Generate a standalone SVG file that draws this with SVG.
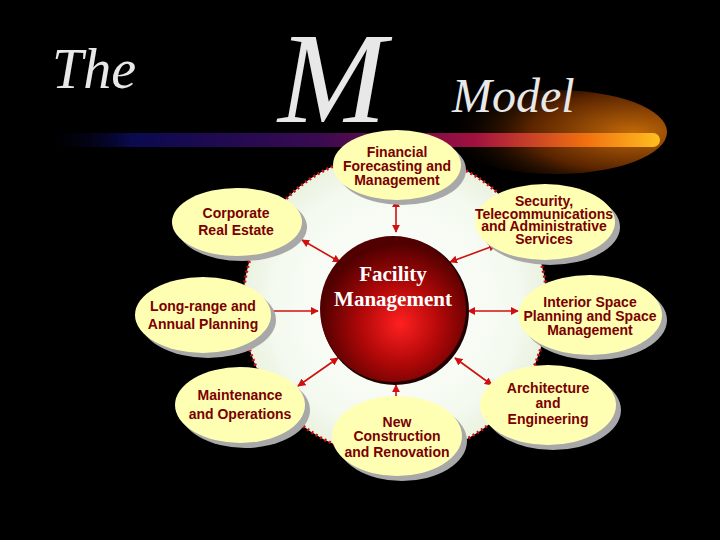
<svg xmlns="http://www.w3.org/2000/svg" width="720" height="540" viewBox="0 0 720 540">
<defs>
<linearGradient id="bar" x1="0" x2="1" y1="0" y2="0">
<stop offset="0" stop-color="#000" stop-opacity="0"/>
<stop offset="0.15" stop-color="#0a0a50"/>
<stop offset="0.45" stop-color="#3a0a50"/>
<stop offset="0.7" stop-color="#a01040"/>
<stop offset="0.88" stop-color="#f07010"/>
<stop offset="1" stop-color="#ffc020"/>
</linearGradient>
<radialGradient id="glow" cx="0.85" cy="0.5" r="0.85">
<stop offset="0" stop-color="#c06808"/>
<stop offset="0.55" stop-color="#5a2400"/>
<stop offset="1" stop-color="#000" stop-opacity="0"/>
</radialGradient>
<radialGradient id="bg" cx="0.5" cy="0.5" r="0.5">
<stop offset="0" stop-color="#ffffff"/>
<stop offset="0.8" stop-color="#f4faf0"/>
<stop offset="1" stop-color="#eaf2e0"/>
</radialGradient>
<radialGradient id="sphere" cx="0.55" cy="0.6" r="0.55">
<stop offset="0" stop-color="#ff2020"/>
<stop offset="0.5" stop-color="#b00808"/>
<stop offset="1" stop-color="#500000"/>
</radialGradient>
<marker id="ah" viewBox="0 0 10 10" refX="9" refY="5" markerWidth="5" markerHeight="5" orient="auto-start-reverse">
<path d="M0,0 L10,5 L0,10 z" fill="#d01010"/>
</marker>
</defs>
<style>
.node ellipse.s{fill:#a8a8a8}
.node ellipse.f{fill:#ffffb4}
.node text{font-family:"Liberation Sans",Arial,sans-serif;font-size:14px;font-weight:bold;fill:#7a0000;text-anchor:middle}
.title{font-family:"Liberation Serif","Times New Roman",serif;font-style:italic;fill:#e8e8e8}
#connectors line{stroke:#d01010;stroke-width:1.6;marker-start:url(#ah);marker-end:url(#ah)}
</style>
<rect width="720" height="540" fill="#000"/>
<ellipse cx="555" cy="132" rx="112" ry="42" fill="url(#glow)"/>
<rect x="40" y="133" width="620" height="14" rx="7" fill="url(#bar)"/>
<text class="title" x="52" y="88" font-size="56">The</text>
<text class="title" x="278" y="122" font-size="130">M</text>
<text class="title" x="452" y="112" font-size="48">Model</text>
<circle cx="395" cy="305" r="152" fill="url(#bg)" stroke="#d01010" stroke-width="3" stroke-dasharray="2 3"/>
<g id="connectors">
<line x1="396" y1="200" x2="396" y2="232"/>
<line x1="302" y1="240" x2="340" y2="262"/>
<line x1="496" y1="245" x2="450" y2="262"/>
<line x1="264" y1="311" x2="318" y2="311"/>
<line x1="468" y1="311" x2="518" y2="311"/>
<line x1="298" y1="386" x2="338" y2="358"/>
<line x1="396" y1="385" x2="396" y2="408"/>
<line x1="492" y1="385" x2="455" y2="358"/>
</g>
<g id="center">
<circle cx="395" cy="311" r="74" fill="#200000"/>
<circle cx="393" cy="309" r="73" fill="url(#sphere)"/>
<text x="393" y="281" font-family="Liberation Serif,'Times New Roman',serif" font-weight="bold" font-size="21" fill="#fff" text-anchor="middle">Facility</text>
<text x="393" y="306" font-family="Liberation Serif,'Times New Roman',serif" font-weight="bold" font-size="21" fill="#fff" text-anchor="middle">Management</text>
</g>
<g id="n1" class="node"><ellipse class="s" cx="402" cy="170" rx="64" ry="35"/><ellipse class="f" cx="397" cy="165" rx="64" ry="35"/>
<text x="397" y="157">Financial</text><text x="397" y="171">Forecasting and</text><text x="397" y="185">Management</text></g>
<g id="n2" class="node"><ellipse class="s" cx="242" cy="227" rx="65" ry="34"/><ellipse class="f" cx="237" cy="222" rx="65" ry="34"/>
<text x="236" y="218">Corporate</text><text x="236" y="235">Real Estate</text></g>
<g id="n3" class="node"><ellipse class="s" cx="550" cy="227" rx="70" ry="38"/><ellipse class="f" cx="545" cy="222" rx="70" ry="38"/>
<text x="544" y="206">Security,</text><text x="544" y="219" font-size="12">Telecommunications</text><text x="544" y="231" font-size="12">and Administrative</text><text x="544" y="244">Services</text></g>
<g id="n4" class="node"><ellipse class="s" cx="208" cy="320" rx="68" ry="38"/><ellipse class="f" cx="203" cy="315" rx="68" ry="38"/>
<text x="203" y="311">Long-range and</text><text x="203" y="329">Annual Planning</text></g>
<g id="n5" class="node"><ellipse class="s" cx="595" cy="320" rx="72" ry="40"/><ellipse class="f" cx="590" cy="315" rx="72" ry="40"/>
<text x="590" y="307">Interior Space</text><text x="590" y="321">Planning and Space</text><text x="590" y="335">Management</text></g>
<g id="n6" class="node"><ellipse class="s" cx="245" cy="410" rx="65" ry="38"/><ellipse class="f" cx="240" cy="405" rx="65" ry="38"/>
<text x="240" y="400">Maintenance</text><text x="240" y="419">and Operations</text></g>
<g id="n7" class="node"><ellipse class="s" cx="402" cy="441" rx="65" ry="40"/><ellipse class="f" cx="397" cy="436" rx="65" ry="40"/>
<text x="397" y="427">New</text><text x="397" y="441">Construction</text><text x="397" y="457">and Renovation</text></g>
<g id="n8" class="node"><ellipse class="s" cx="553" cy="410" rx="68" ry="40"/><ellipse class="f" cx="548" cy="405" rx="68" ry="40"/>
<text x="548" y="393">Architecture</text><text x="548" y="408">and</text><text x="548" y="424">Engineering</text></g>
</svg>
